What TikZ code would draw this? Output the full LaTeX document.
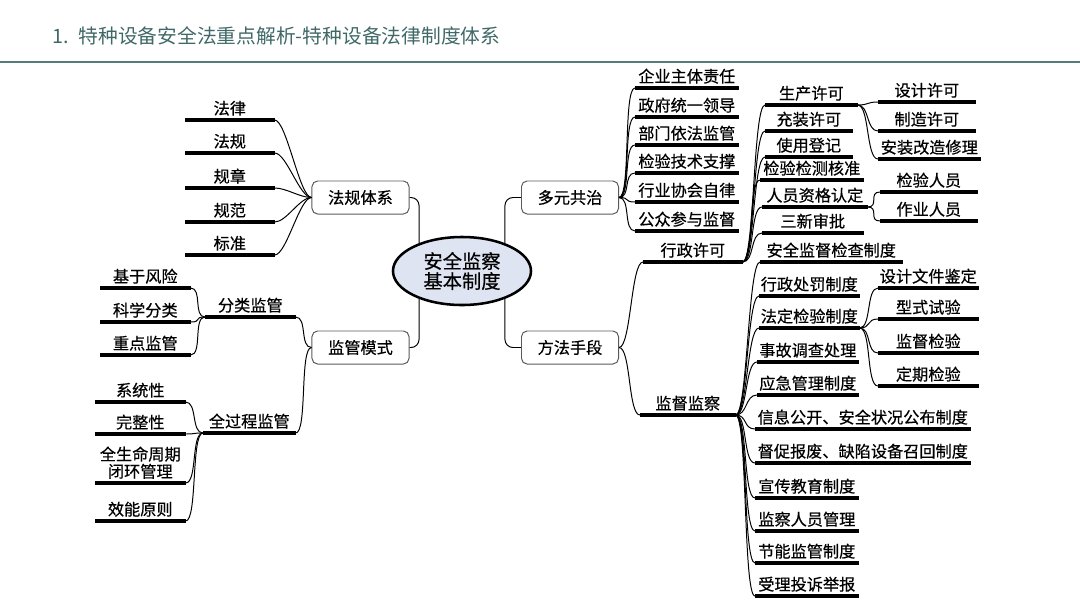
\documentclass[tikz,border=0pt]{standalone}
\usepackage{fontspec}
\setmainfont{Noto Sans CJK SC}[FakeBold=0.5]
\newfontfamily\titlefont{Noto Sans CJK SC}
\usetikzlibrary{shapes.geometric}

\definecolor{titleteal}{RGB}{64,104,104}
\definecolor{ruleteal}{RGB}{88,124,122}
\definecolor{hubblue}{RGB}{222,228,241}
\newcommand{\mapfont}{\fontsize{11.5pt}{12.2pt}\selectfont}

\tikzset{
  hub/.style={ellipse,draw,line width=1.8pt,fill=hubblue,minimum width=3.45cm,minimum height=1.7cm,
    inner sep=0pt,align=center,font=\fontsize{13.7pt}{14.2pt}\selectfont},
  branch/.style={draw=black!65,line width=0.7pt,rounded corners=4pt,minimum width=2.425cm,
    minimum height=0.825cm,inner sep=0pt,font=\mapfont},
  uline/.style={line width=2.3pt},
  leaf/.style={anchor=south west,inner xsep=0pt,inner ysep=2.8pt,text height=9.7pt,text depth=1pt,
    align=center,font=\mapfont,
    append after command={(\tikzlastnode.south west) edge[uline] (\tikzlastnode.south east)}},
  link/.style={out=0,in=180,distance=0.3cm,line width=0.7pt},
  trunk/.style={rounded corners=0.2cm,line width=0.7pt},
}

\begin{document}
\begin{tikzpicture}[x=0.025cm,y=-0.025cm]
\useasboundingbox (0,0) rectangle (1080,607);
% title
\node[anchor=west,inner sep=0pt,text=titleteal,font=\titlefont\fontsize{14.05pt}{16pt}\selectfont] (title) at (52,36) {1.\hspace{0.5em}特种设备安全法重点解析-特种设备法律制度体系};
\draw[ruleteal,line width=1.4pt] (0,62) -- (1080,62);
% centre and main branches
\node[hub] (hub) at (462,271) {安全监察\\基本制度};
\node[branch] (system) at (360.5,197.5) {法规体系};
\node[branch] (mode) at (360.5,347.5) {监管模式};
\node[branch] (cogovern) at (570,197.5) {多元共治};
\node[branch] (means) at (570,347.5) {方法手段};
\draw[trunk] (system.east) -| (hub.147);
\draw[trunk] (mode.east) -| (hub.213);
\draw[trunk] (hub.33) |- (cogovern.west);
\draw[trunk] (hub.327) |- (means.west);
% legal system
\node[leaf,minimum width=2.225cm] (law) at (185,120) {法律};
\node[leaf,minimum width=2.225cm] (regulation) at (185,153) {法规};
\node[leaf,minimum width=2.225cm] (rule) at (185,188) {规章};
\node[leaf,minimum width=2.225cm] (norm) at (185,222) {规范};
\node[leaf,minimum width=2.225cm] (standard) at (185,255) {标准};
\draw[link] (law.south east) to (system.west);
\draw[link] (regulation.south east) to (system.west);
\draw[link] (rule.south east) to (system.west);
\draw[link] (norm.south east) to (system.west);
\draw[link] (standard.south east) to (system.west);
% supervision mode
\node[leaf,minimum width=2.25cm] (classify) at (205,317) {分类监管};
\node[leaf,minimum width=2.3cm] (wholeproc) at (203,433) {全过程监管};
\draw[link] (classify.south east) to (mode.west);
\draw[link] (wholeproc.south east) to (mode.west);
\node[leaf,minimum width=2.25cm] (riskbased) at (100,288) {基于风险};
\node[leaf,minimum width=2.25cm] (scientific) at (100,322) {科学分类};
\node[leaf,minimum width=2.25cm] (keypoint) at (100,355) {重点监管};
\draw[link] (riskbased.south east) to (classify.south west);
\draw[link] (scientific.south east) to (classify.south west);
\draw[link] (keypoint.south east) to (classify.south west);
\node[leaf,minimum width=2.25cm] (systemic) at (95,402) {系统性};
\node[leaf,minimum width=2.25cm] (integrity) at (95,434) {完整性};
\node[leaf,minimum width=2.25cm,text height={},text depth={}] (lifecycle) at (95,483) {全生命周期\\闭环管理};
\node[leaf,minimum width=2.25cm] (efficiency) at (95,521) {效能原则};
\draw[link] (systemic.south east) to (wholeproc.south west);
\draw[link] (integrity.south east) to (wholeproc.south west);
\draw[link] (lifecycle.south east) to (wholeproc.south west);
\draw[link] (efficiency.south east) to (wholeproc.south west);
% co-governance
\node[leaf,minimum width=2.575cm] (enterprise) at (635,88) {企业主体责任};
\node[leaf,minimum width=2.575cm] (government) at (635,117) {政府统一领导};
\node[leaf,minimum width=2.575cm] (department) at (635,145) {部门依法监管};
\node[leaf,minimum width=2.575cm] (techsupport) at (635,173) {检验技术支撑};
\node[leaf,minimum width=2.575cm] (association) at (635,202) {行业协会自律};
\node[leaf,minimum width=2.575cm] (public) at (635,231) {公众参与监督};
\draw[link] (cogovern.east) to (enterprise.south west);
\draw[link] (cogovern.east) to (government.south west);
\draw[link] (cogovern.east) to (department.south west);
\draw[link] (cogovern.east) to (techsupport.south west);
\draw[link] (cogovern.east) to (association.south west);
\draw[link] (cogovern.east) to (public.south west);
% methods
\node[leaf,minimum width=2.475cm] (license) at (643,262) {行政许可};
\node[leaf,minimum width=2.375cm] (supervise) at (640,415) {监督监察};
\draw[link] (means.east) to (license.south west);
\draw[link] (means.east) to (supervise.south west);
% administrative licensing
\node[leaf,minimum width=2.3cm] (production) at (765,105) {生产许可};
\node[leaf,minimum width=2.175cm] (filling) at (765,131) {充装许可};
\node[leaf,minimum width=2.175cm] (registration) at (765,157) {使用登记};
\node[leaf,minimum width=2.575cm] (approval) at (760,180) {检验检测核准};
\node[leaf,minimum width=2.625cm] (qualification) at (762,207) {人员资格认定};
\node[leaf,minimum width=2.525cm] (newtech) at (762,233) {三新审批};
\draw[link] (license.south east) to (production.south west);
\draw[link] (license.south east) to (filling.south west);
\draw[link] (license.south east) to (registration.south west);
\draw[link] (license.south east) to (approval.south west);
\draw[link] (license.south east) to (qualification.south west);
\draw[link] (license.south east) to (newtech.south west);
\node[leaf,minimum width=2.425cm] (design) at (878,102) {设计许可};
\node[leaf,minimum width=2.425cm] (manufacture) at (878,131) {制造许可};
\node[leaf,minimum width=2.55cm] (installation) at (878,159) {安装改造修理};
\draw[link] (production.south east) to (design.south west);
\draw[link] (production.south east) to (manufacture.south west);
\draw[link] (production.south east) to (installation.south west);
\node[leaf,minimum width=2.425cm] (inspector) at (880,192) {检验人员};
\node[leaf,minimum width=2.425cm] (operator) at (880,221) {作业人员};
\draw[link] (qualification.south east) to (inspector.south west);
\draw[link] (qualification.south east) to (operator.south west);
% supervision and inspection
\node[leaf,minimum width=3.55cm] (inspection) at (760,262) {安全监督检查制度};
\node[leaf,minimum width=2.5cm] (penalty) at (759,296) {行政处罚制度};
\node[leaf,minimum width=2.5cm] (statutory) at (759,328) {法定检验制度};
\node[leaf,minimum width=2.525cm] (accident) at (757,362) {事故调查处理};
\node[leaf,minimum width=2.525cm] (emergency) at (757,395) {应急管理制度};
\node[leaf,minimum width=5.375cm] (disclosure) at (755,429) {信息公开、安全状况公布制度};
\node[leaf,minimum width=5.375cm] (recall) at (755,463) {督促报废、缺陷设备召回制度};
\node[leaf,minimum width=2.575cm] (education) at (755,498) {宣传教育制度};
\node[leaf,minimum width=2.575cm] (staff) at (755,531) {监察人员管理};
\node[leaf,minimum width=2.575cm] (energy) at (755,563) {节能监管制度};
\node[leaf,minimum width=2.575cm] (complaint) at (755,596) {受理投诉举报};
\draw[link] (supervise.south east) to (inspection.south west);
\draw[link] (supervise.south east) to (penalty.south west);
\draw[link] (supervise.south east) to (statutory.south west);
\draw[link] (supervise.south east) to (accident.south west);
\draw[link] (supervise.south east) to (emergency.south west);
\draw[link] (supervise.south east) to (disclosure.south west);
\draw[link] (supervise.south east) to (recall.south west);
\draw[link] (supervise.south east) to (education.south west);
\draw[link] (supervise.south east) to (staff.south west);
\draw[link] (supervise.south east) to (energy.south west);
\draw[link] (supervise.south east) to (complaint.south west);
\node[leaf,minimum width=2.5cm] (docreview) at (878,288) {设计文件鉴定};
\node[leaf,minimum width=2.5cm] (typetest) at (878,319) {型式试验};
\node[leaf,minimum width=2.5cm] (supervtest) at (878,353) {监督检验};
\node[leaf,minimum width=2.5cm] (periodic) at (878,386) {定期检验};
\draw[link] (statutory.south east) to (docreview.south west);
\draw[link] (statutory.south east) to (typetest.south west);
\draw[link] (statutory.south east) to (supervtest.south west);
\draw[link] (statutory.south east) to (periodic.south west);
\end{tikzpicture}
\end{document}
